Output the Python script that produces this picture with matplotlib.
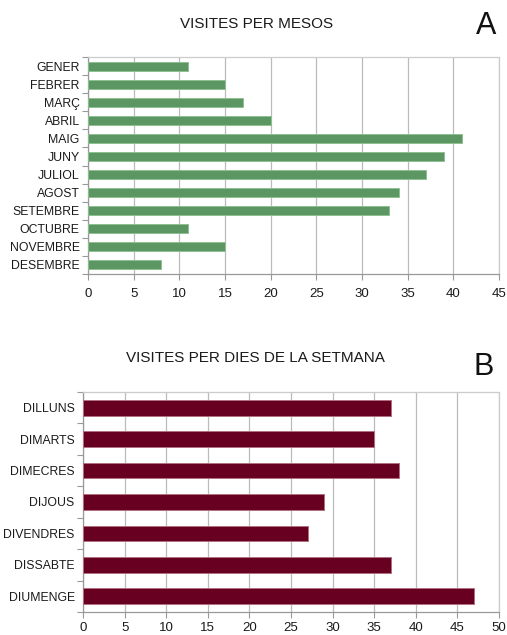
import matplotlib.pyplot as plt
import numpy as np

plt.rcParams['font.family'] = ['Liberation Sans', 'DejaVu Sans']

# data
mesos = ["GENER", "FEBRER", "MARÇ", "ABRIL", "MAIG", "JUNY", "JULIOL",
         "AGOST", "SETEMBRE", "OCTUBRE", "NOVEMBRE", "DESEMBRE"]
visites_mesos = [11, 15, 17, 20, 41, 39, 37, 34, 33, 11, 15, 8]
ticks_mesos = [0, 5, 10, 15, 20, 25, 30, 35, 40, 45]

dies = ["DILLUNS", "DIMARTS", "DIMECRES", "DIJOUS", "DIVENDRES", "DISSABTE", "DIUMENGE"]
visites_dies = [37, 35, 38, 29, 27, 37, 47]
ticks_dies = [0, 5, 10, 15, 20, 25, 30, 35, 40, 45, 50]

W, H = 507, 635
fig = plt.figure(figsize=(W / 100, H / 100), dpi=100)


def px_axes(left, top, right, bottom):
    return fig.add_axes([left / W, 1 - bottom / H, (right - left) / W, (bottom - top) / H])


def draw_panel(ax, cats, vals, ticks, color, edge, height, xpad):
    y = np.arange(len(cats))
    ax.barh(y, vals, height=height, color=color, edgecolor=edge, linewidth=0.7, zorder=3)
    ax.set_ylim(len(cats) - 0.5, -0.5)
    ax.set_xlim(ticks[0], ticks[-1])
    ax.set_xticks(ticks)
    ax.set_yticks(y)
    ax.set_yticklabels(cats, fontsize=8.8, color='#1a1a1a')
    ax.set_yticks(np.arange(len(cats) + 1) - 0.5, minor=True)
    ax.tick_params(axis='y', which='major', length=0, pad=6)
    ax.tick_params(axis='y', which='minor', length=4, color='#999999', width=0.8)
    ax.tick_params(axis='x', length=4, color='#999999', width=0.8, labelsize=9.5,
                   labelcolor='#1a1a1a', pad=xpad)
    ax.grid(axis='x', color='#bbbbbb', linewidth=0.9, zorder=0)
    for s in ['left', 'bottom']:
        ax.spines[s].set_color('#999999')
    for s in ['top', 'right']:
        ax.spines[s].set_color('#cccccc')
    for s in ax.spines.values():
        s.set_linewidth(0.9)


ax1 = px_axes(88, 57, 499, 274)
draw_panel(ax1, mesos, visites_mesos, ticks_mesos, '#5b9663', '#8fbf92', 0.5, 6)
fig.text(257 / W, 1 - 24 / H, "VISITES PER MESOS", ha='center', va='center',
         fontsize=11, color='#1a1a1a')
fig.text(486 / W, 1 - 26 / H, "A", ha='center', va='center', fontsize=22, color='#111111')

ax2 = px_axes(83, 392, 499, 612)
draw_panel(ax2, dies, visites_dies, ticks_dies, '#680022', '#b07080', 0.5, 3)
fig.text(255 / W, 1 - 358 / H, "VISITES PER DIES DE LA SETMANA", ha='center', va='center',
         fontsize=11, color='#1a1a1a')
fig.text(484 / W, 1 - 367 / H, "B", ha='center', va='center', fontsize=22, color='#111111')

fig.savefig('out.png', dpi=100)
